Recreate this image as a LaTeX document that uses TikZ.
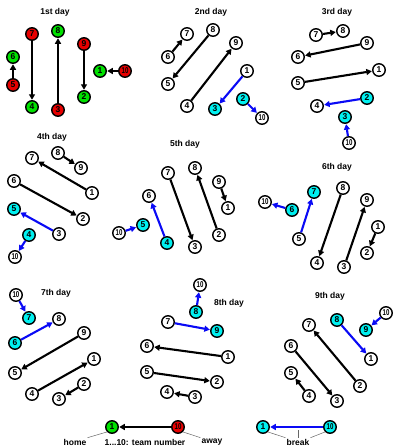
\documentclass[tikz,border=0pt]{standalone}
\usepackage{fontspec}
\setmainfont{Liberation Sans}
\usetikzlibrary{arrows.meta}

\definecolor{homegreen}{RGB}{0,225,0}
\definecolor{awayred}{RGB}{230,0,0}
\definecolor{breakcyan}{RGB}{0,240,240}
\definecolor{breakblue}{RGB}{10,10,245}

\newcommand\teamno[1]{\ifnum#1>9 \scalebox{0.72}[1]{#1}\else#1\fi}

\begin{document}
\begin{tikzpicture}[x=1pt,y=-1pt,>={Triangle[length=5.5pt,width=6pt]}]
  \tikzset{team/.style={circle,draw,line width=1.4pt,inner sep=0pt,minimum size=12.5pt,
      font=\bfseries\fontsize{8.5}{8.5}\selectfont},
    game/.style={->,line width=2.1pt,shorten >=0.3pt},
    breakgame/.style={game,breakblue},
    daytitle/.style={font=\bfseries\fontsize{8.5}{9}\selectfont},
    legendtext/.style={font=\bfseries\fontsize{8.5}{9}\selectfont,inner sep=1pt},
    pointer/.style={black!60,line width=0.5pt}}
  \useasboundingbox (0,0) rectangle (392,447);

  % 1st day
  \node[daytitle] (t1) at (55,12) {1st day};
  \foreach \n/\x/\y/\c in {7/32/34/awayred, 4/32/107/homegreen, 8/58/31/homegreen,
      3/58/110/awayred, 9/84/44/awayred, 2/84/97/homegreen, 6/13/57/homegreen,
      5/13/85/awayred, 1/100/71/homegreen, 10/125/71/awayred}
    \node[team,fill=\c] (d1-\n) at (\x,\y) {\teamno{\n}};
  \foreach \a/\b in {5/6,7/4,3/8,9/2,10/1}
    \draw[game] (d1-\a) -- (d1-\b);

  % 2nd day
  \node[daytitle] (t2) at (211,12) {2nd day};
  \foreach \n/\x/\y/\c in {7/187/34/white, 8/213/30/white, 6/168/57/white,
      9/236/43/white, 5/168/84/white, 1/247/71/white, 4/187/106/white,
      3/215/109/breakcyan, 2/243/99/breakcyan, 10/262/118/white}
    \node[team,fill=\c] (d2-\n) at (\x,\y) {\teamno{\n}};
  \foreach \a/\b in {6/7,8/5,4/9}
    \draw[game] (d2-\a) -- (d2-\b);
  \foreach \a/\b in {1/3,2/10}
    \draw[breakgame] (d2-\a) -- (d2-\b);

  % 3rd day
  \node[daytitle] (t3) at (337,12) {3rd day};
  \foreach \n/\x/\y/\c in {7/316/35/white, 8/343/31/white, 9/367/43/white,
      6/298/57/white, 1/379/70/white, 5/298/83/white, 2/367/98/breakcyan,
      4/317/106/white, 3/345/117/breakcyan, 10/349/143/white}
    \node[team,fill=\c] (d3-\n) at (\x,\y) {\teamno{\n}};
  \foreach \a/\b in {7/8,9/6,5/1}
    \draw[game] (d3-\a) -- (d3-\b);
  \foreach \a/\b in {2/4,10/3}
    \draw[breakgame] (d3-\a) -- (d3-\b);

  % 4th day
  \node[daytitle] (t4) at (52,137) {4th day};
  \foreach \n/\x/\y/\c in {7/32/158/white, 8/58/153/white, 9/81/168/white,
      6/14/181/white, 1/92/193/white, 5/14/209/breakcyan, 2/83/219/white,
      3/59/234/white, 4/29/235/breakcyan, 10/15/257/white}
    \node[team,fill=\c] (d4-\n) at (\x,\y) {\teamno{\n}};
  \foreach \a/\b in {8/9,1/7,6/2}
    \draw[game] (d4-\a) -- (d4-\b);
  \foreach \a/\b in {3/5,4/10}
    \draw[breakgame] (d4-\a) -- (d4-\b);

  % 5th day
  \node[daytitle] (t5) at (185,144) {5th day};
  \foreach \n/\x/\y/\c in {7/168/173/white, 8/195/168/white, 9/219/182/white,
      6/149/196/white, 1/228/208/white, 5/143/225/breakcyan, 10/119/233/white,
      2/219/235/white, 4/167/243/breakcyan, 3/195/247/white}
    \node[team,fill=\c] (d5-\n) at (\x,\y) {\teamno{\n}};
  \foreach \a/\b in {9/1,2/8,7/3}
    \draw[game] (d5-\a) -- (d5-\b);
  \foreach \a/\b in {4/6,10/5}
    \draw[breakgame] (d5-\a) -- (d5-\b);

  % 6th day
  \node[daytitle] (t6) at (337,167) {6th day};
  \foreach \n/\x/\y/\c in {8/343/188/white, 7/314/192/breakcyan, 10/265/202/white,
      6/292/210/breakcyan, 9/367/200/white, 1/378/227/white, 5/299/239/white,
      2/367/253/white, 4/317/263/white, 3/344/267/white}
    \node[team,fill=\c] (d6-\n) at (\x,\y) {\teamno{\n}};
  \foreach \a/\b in {1/2,8/4,3/9}
    \draw[game] (d6-\a) -- (d6-\b);
  \foreach \a/\b in {5/7,6/10}
    \draw[breakgame] (d6-\a) -- (d6-\b);

  % 7th day
  \node[daytitle] (t7) at (56,293) {7th day};
  \foreach \n/\x/\y/\c in {10/16/295/white, 7/29/318/breakcyan, 8/59/319/white,
      6/15/343/breakcyan, 9/84/333/white, 1/94/359/white, 5/15/373/white,
      2/84/384/white, 4/32/394/white, 3/59/399/white}
    \node[team,fill=\c] (d7-\n) at (\x,\y) {\teamno{\n}};
  \foreach \a/\b in {9/5,4/1,2/3}
    \draw[game] (d7-\a) -- (d7-\b);
  \foreach \a/\b in {10/7,6/8}
    \draw[breakgame] (d7-\a) -- (d7-\b);

  % 8th day
  \node[daytitle] (t8) at (229,303) {8th day};
  \foreach \n/\x/\y/\c in {10/200/285/white, 8/196/312/breakcyan, 7/168/322/white,
      9/217/331/breakcyan, 6/147/346/white, 1/228/357/white, 5/147/372/white,
      2/217/382/white, 4/167/392/white, 3/195/397/white}
    \node[team,fill=\c] (d8-\n) at (\x,\y) {\teamno{\n}};
  \foreach \a/\b in {1/6,5/2,3/4}
    \draw[game] (d8-\a) -- (d8-\b);
  \foreach \a/\b in {8/10,7/9}
    \draw[breakgame] (d8-\a) -- (d8-\b);

  % 9th day
  \node[daytitle] (t9) at (330,296) {9th day};
  \foreach \n/\x/\y/\c in {10/386/313/white, 8/337/320/breakcyan, 7/309/325/white,
      9/366/330/breakcyan, 6/291/346/white, 1/371/359/white, 5/291/373/white,
      2/360/386/white, 4/309/396/white, 3/337/401/white}
    \node[team,fill=\c] (d9-\n) at (\x,\y) {\teamno{\n}};
  \foreach \a/\b in {2/7,6/3,4/5}
    \draw[game] (d9-\a) -- (d9-\b);
  \foreach \a/\b in {10/9,8/1}
    \draw[breakgame] (d9-\a) -- (d9-\b);

  % legend
  \node[team,fill=homegreen] (lg-1) at (112,427) {1};
  \node[team,fill=awayred] (lg-10) at (178,427) {\teamno{10}};
  \draw[game] (lg-10) -- (lg-1);
  \node[legendtext] (home) at (75,442) {home};
  \node[legendtext] (number) at (145,442) {1...10: team number};
  \node[legendtext] (away) at (212,442) {away};
  \draw[pointer] (home.north east) -- (lg-1.south west);
  \draw[pointer] (lg-10.south east) -- (away.north west);

  \node[team,fill=breakcyan] (lb-1) at (263,427) {1};
  \node[team,fill=breakcyan] (lb-10) at (330,427) {\teamno{10}};
  \draw[breakgame] (lb-10) -- (lb-1);
  \node[legendtext] (break) at (298,442) {break};
  \coordinate (brktick) at (298,430);
  \draw[pointer] (lb-1.south east) -- (break.north west);
  \draw[pointer] (lb-10.south west) -- (break.north east);
  \draw[pointer] (brktick) -- (break.north);
\end{tikzpicture}
\end{document}
